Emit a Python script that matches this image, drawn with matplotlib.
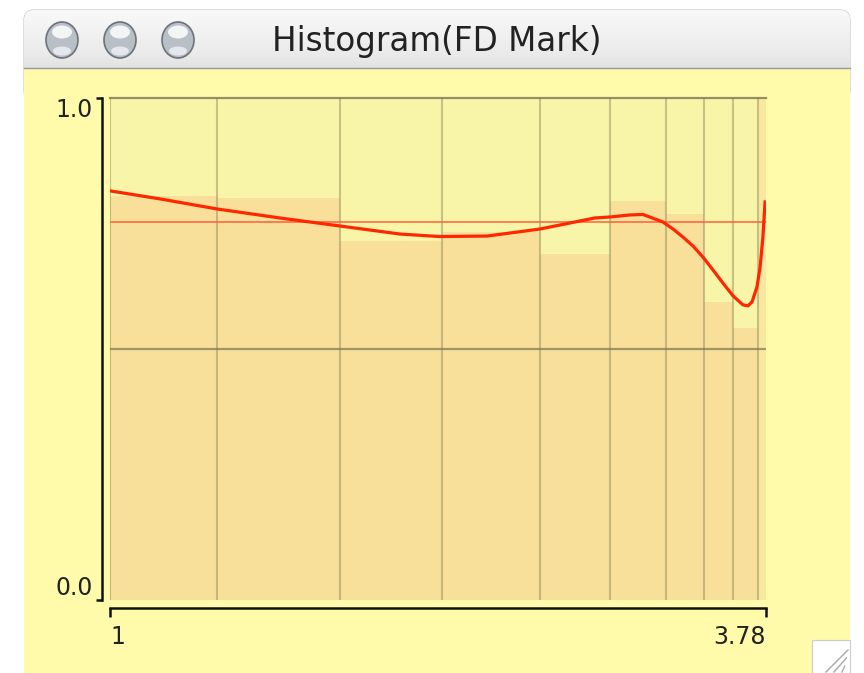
import matplotlib
matplotlib.use("Agg")
import matplotlib.pyplot as plt
import numpy as np
from matplotlib.patches import Rectangle, FancyBboxPatch, Ellipse

# ---------------- data ----------------
title = "Histogram(FD Mark)"
bin_edges = [1.000, 1.453, 1.975, 2.407, 2.823, 3.119, 3.356, 3.517, 3.640, 3.746, 3.780]
bin_heights = [0.805, 0.800, 0.716, 0.733, 0.690, 0.795, 0.769, 0.593, 0.541, 1.000]
curve_x = [1.000, 1.212, 1.453, 1.720, 1.975, 2.229, 2.398, 2.598, 2.822, 3.055,
           3.119, 3.204, 3.259, 3.343, 3.386, 3.428, 3.471, 3.513, 3.556, 3.598,
           3.640, 3.682, 3.704, 3.721, 3.742, 3.755, 3.767, 3.776]
curve_y = [0.815, 0.799, 0.779, 0.761, 0.745, 0.729, 0.724, 0.725, 0.739, 0.761,
           0.763, 0.767, 0.768, 0.753, 0.739, 0.723, 0.705, 0.683, 0.657, 0.631,
           0.606, 0.588, 0.586, 0.594, 0.624, 0.663, 0.723, 0.793]
mean_level = 0.753
ref_level = 0.5
x_ticks = [1, 3.78]
x_tick_labels = ["1", "3.78"]
y_ticks = [0.0, 1.0]
y_tick_labels = ["0.0", "1.0"]

# ---------------- styling ----------------
W, H = 864, 673
win_yellow = "#FFFBAA"
plot_bg = "#F8F5A9"
bar_color = "#F8E09B"
grid_color = "#7d7650"

fig = plt.figure(figsize=(W / 100, H / 100), dpi=100)
fig.patch.set_facecolor("white")

# window chrome (pixel coordinates)
bg = fig.add_axes([0, 0, 1, 1])
bg.set_xlim(0, W)
bg.set_ylim(H, 0)
bg.axis("off")

tb = FancyBboxPatch((24, 10), 826, 90, boxstyle="round,pad=0,rounding_size=10",
                    facecolor="none", edgecolor="#c4c4c4", lw=0.8)
bg.add_patch(tb)
grad = np.linspace(0, 1, 100).reshape(-1, 1)
im = bg.imshow(grad, extent=(24, 850, 100, 10), cmap=matplotlib.colors.LinearSegmentedColormap.from_list(
    "tb", ["#F9F9F9", "#EAEAEA", "#CFCFCF"]), aspect="auto", zorder=1)
im.set_clip_path(tb)
bg.add_patch(Rectangle((24, 68), 826, H - 68, facecolor=win_yellow, edgecolor="none", zorder=2))
bg.plot([24, 850], [68, 68], color="#9a9a9a", lw=1.0, zorder=3)

for cx in (62, 120, 178):
    bg.add_patch(Ellipse((cx, 40), 32, 36, facecolor="#b9bfc6", edgecolor="#6d7278", lw=1.2, zorder=3))
    bg.add_patch(Ellipse((cx, 32), 20, 13, facecolor="#f2f4f6", edgecolor="none", zorder=4))
    bg.add_patch(Ellipse((cx, 51), 18, 9, facecolor="#e4e8ee", edgecolor="none", zorder=4))
bg.text(437, 41, title, ha="center", va="center", fontsize=23.5, color="#222222",
        family="DejaVu Sans", zorder=5)

# resize grip
bg.add_patch(Rectangle((812, 640), 38, 33, facecolor="white", edgecolor="#cccccc", lw=0.8, zorder=3))
for o in (0, 8, 16):
    bg.plot([848 - o * 0.2, 826 + o], [650 + o, 672], color="#a8a8a8", lw=1.0, zorder=4)

# ---------------- main axes ----------------
ax = fig.add_axes([110 / W, (H - 600) / H, 656 / W, 502 / H])
ax.set_facecolor(plot_bg)
widths = np.diff(bin_edges)
bars = ax.bar(bin_edges[:-1], bin_heights, width=widths, align="edge", color=bar_color,
              linewidth=0, zorder=1)
bars[-1].set_alpha(0.6)
ax.vlines(bin_edges[:-1], 0, 1, color=grid_color, lw=1.5, alpha=0.4, zorder=2)
ax.axhline(ref_level, color=grid_color, lw=1.6, alpha=0.7, zorder=2)
ax.axhline(1.0, color=grid_color, lw=1.6, alpha=0.8, zorder=2, clip_on=False)
ax.axhline(mean_level, color="#FF5533", lw=1.2, alpha=0.85, zorder=3)
ax.plot(curve_x, curve_y, color="#FF2600", lw=2.3, zorder=4, solid_joinstyle="round")

ax.set_xlim(bin_edges[0], bin_edges[-1])
ax.set_ylim(0, 1)

for s in ("top", "right"):
    ax.spines[s].set_visible(False)
for s in ("left", "bottom"):
    ax.spines[s].set_position(("outward", 5.8))
    ax.spines[s].set_linewidth(1.8)
    ax.spines[s].set_color("#111111")
ax.spines["left"].set_bounds(0, 1)
ax.spines["bottom"].set_bounds(x_ticks[0], x_ticks[-1])

ax.set_xticks(x_ticks)
ax.set_xticklabels(x_tick_labels)
ax.set_yticks(y_ticks)
ax.set_yticklabels(y_tick_labels)
ax.tick_params(axis="y", direction="out", length=4.5, width=1.8, color="#111111",
               labelsize=17, labelcolor="#222222", pad=2)
ax.tick_params(axis="x", direction="out", length=6.5, width=1.8, color="#111111",
               labelsize=17, labelcolor="#222222", pad=6)
yl = ax.get_yticklabels()
yl[0].set_va("bottom")
yl[1].set_va("top")
xl = ax.get_xticklabels()
xl[0].set_ha("left")
xl[1].set_ha("right")

fig.savefig("out.png", dpi=100, facecolor="white")
